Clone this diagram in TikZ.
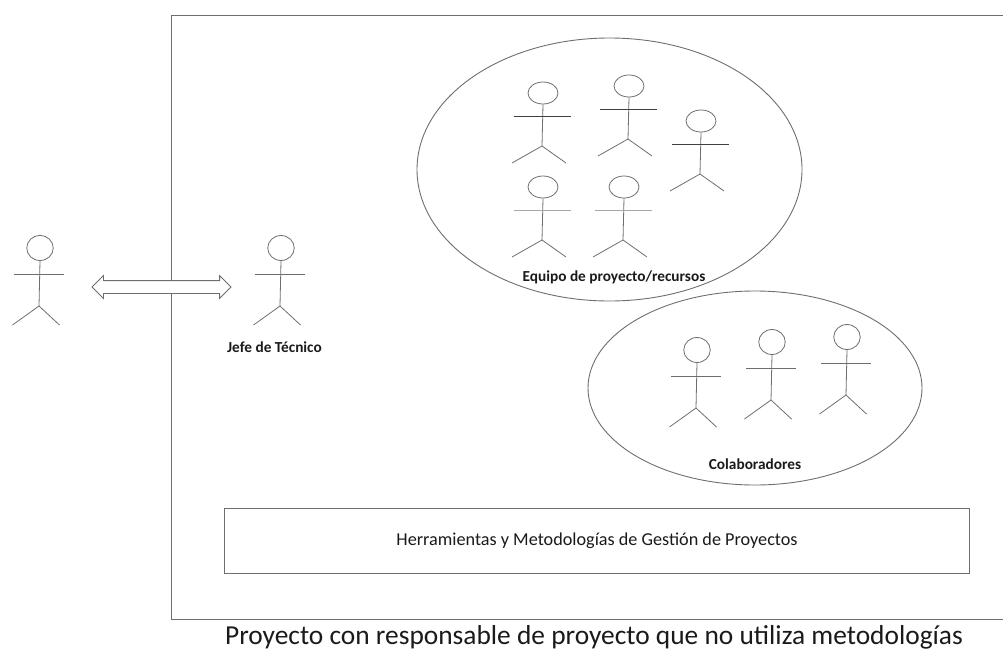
\documentclass[tikz,border=0pt]{standalone}
\usepackage{fontspec}
\setmainfont{Carlito}
\usetikzlibrary{shapes.geometric,shapes.arrows}
\definecolor{ln}{HTML}{6E6E6E}
\definecolor{armdark}{HTML}{404040}
\definecolor{armlight}{HTML}{A8A8A8}
\definecolor{txt}{HTML}{1A1A1A}
\tikzset{
  ln/.style={draw=ln,line width=0.8pt},
  headround/.style={ln,ellipse,inner sep=0pt,minimum width=26.5pt,minimum height=25pt},
  headoval/.style={ln,ellipse,inner sep=0pt,minimum width=30pt,minimum height=22pt},
  boldlabel/.style={font=\bfseries\fontsize{15.3}{17}\selectfont,text=txt,inner sep=0pt},
  group/.style={draw=ln,line width=0.9pt,ellipse,inner sep=0pt}
}
\newcommand{\armcol}{ln}
% name, body x, head centre y, head style, arm half width, arm dy, body end dy, left leg dx, leg dy
\newcommand{\stickman}[9]{%
  \node[#4] (#1) at (#2+1,#3) {};
  \coordinate (#1hip) at (#2,#3+#7);
  \draw[ln] (#1.south) -- (#1hip);
  \draw[ln,draw=\armcol] (#2-#5,#3+#6) -- (#2+#5,#3+#6);
  \draw[ln] (#2-#8,#3+#7+#9) -- (#1hip) -- (#2+#8-6,#3+#7+#9);
}
\newcommand{\roundman}[3]{\stickman{#1}{#2}{#3}{headround}{25}{26}{58}{26.5}{19}}
\newcommand{\ovalman}[3]{\stickman{#1}{#2}{#3}{headoval}{28.5}{23}{53}{30}{17}}
\begin{document}
\begin{tikzpicture}[x=1pt,y=-1pt]
\useasboundingbox (0,0) rectangle (1003,651);
\draw[draw=ln,line width=1pt] (1003,15) -- (171,15) -- (171,619) -- (1003,619);
\node[group,minimum width=385pt,minimum height=263pt] (equipo) at (609.5,169.5) {};
\node[group,minimum width=334pt,minimum height=194pt] (colab) at (755,388) {};
\roundman{cliente}{39}{248}
\roundman{jefe}{280}{248}
\renewcommand{\armcol}{armdark}
\ovalman{ea}{542}{93}
\ovalman{eb}{628}{86}
\ovalman{ec}{700}{121}
\renewcommand{\armcol}{armlight}
\ovalman{ed}{542}{187}
\ovalman{ee}{623}{187}
\renewcommand{\armcol}{ln}
\roundman{ca}{696}{350}
\roundman{cb}{771}{342}
\roundman{cc}{846}{337}
\node[double arrow,draw=ln,fill=white,line width=0.8pt,minimum height=139pt,minimum width=22pt,double arrow head extend=5pt,inner xsep=0pt,inner ysep=6pt] (enlace) at (161.5,287) {};
\node[draw=ln,line width=0.9pt,minimum width=745pt,minimum height=65pt,inner sep=0pt,text=txt,font=\fontsize{18.2}{20}\selectfont] (herr) at (597,540.5) {Herramientas y Metodologías de Gestión de Proyectos};
\node[boldlabel] (ljefe) at (274.5,347) {Jefe de Técnico};
\node[boldlabel] (lequipo) at (614,277) {Equipo de proyecto/recursos};
\node[boldlabel] (lcolab) at (755,464) {Colaboradores};
\node[text=txt,inner sep=0pt,font=\fontsize{27.4}{30}\selectfont] (titulo) at (594,637) {Proyecto con responsable de proyecto que no utiliza metodologías};
\end{tikzpicture}
\end{document}
